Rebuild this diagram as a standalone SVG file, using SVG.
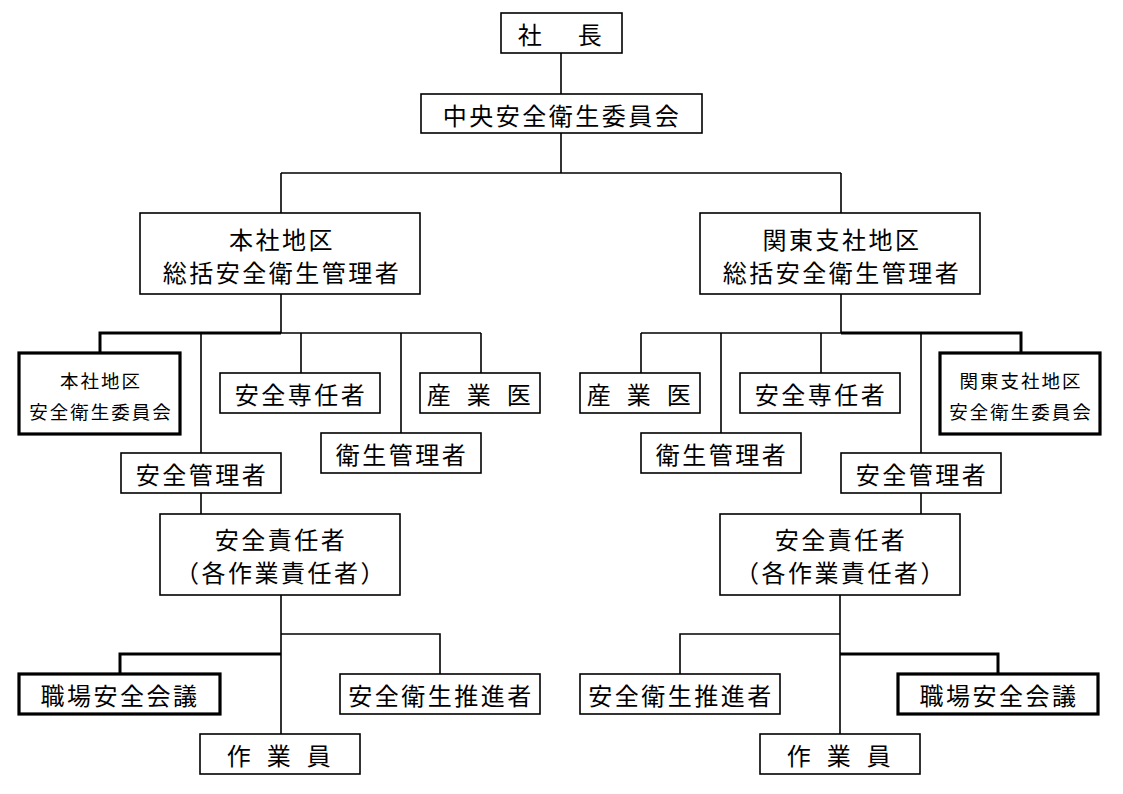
<svg xmlns="http://www.w3.org/2000/svg" width="1123" height="794" viewBox="0 0 1123 794">
<style>
.b{fill:#fff;stroke:#000;stroke-width:1.6}
.bt{fill:#fff;stroke:#000;stroke-width:3.2}
.t{font-family:"Noto Sans CJK JP","Noto Sans CJK SC",sans-serif;font-size:24px;letter-spacing:2.5px;text-anchor:middle;dominant-baseline:central;fill:#000}
.s{font-size:18.5px;letter-spacing:2px}
.c{fill:none;stroke:#000;stroke-width:1.6}
.ct{fill:none;stroke:#000;stroke-width:3}
</style>
<rect width="1123" height="794" fill="#fff"/>
<g id="connectors">
<path class="c" d="M561 53V173M281 173H841M281 173V213M841 173V213"/>
<path class="c" d="M281 294V333H481M201 333V453M301 333V373M401 333V433M481 333V373"/>
<path class="ct" d="M281 333H100V353"/>
<path class="c" d="M841 294V333H641M641 333V373M721 333V433M821 333V373M921 333V453"/>
<path class="ct" d="M841 333H1021V353"/>
<path class="c" d="M201 493V514M281 595V734M281 634H440V674"/>
<path class="ct" d="M281 654H120V674"/>
<path class="c" d="M921 493V514M840 595V734M840 634H680V674"/>
<path class="ct" d="M840 654H998V674"/>
</g>
<g id="shacho"><rect class="b" x="501" y="13" width="121" height="40"/><text class="t" y="33"><tspan x="531">社</tspan><tspan x="591">長</tspan></text></g>
<g id="chuo"><rect class="b" x="421" y="94" width="281" height="39"/><text class="t" x="562" y="114">中央安全衛生委員会</text></g>
<g id="honsha"><rect class="b" x="140" y="213" width="280" height="81"/><text class="t" x="282" y="238">本社地区</text><text class="t" x="282" y="271">総括安全衛生管理者</text></g>
<g id="kanto"><rect class="b" x="700" y="213" width="280" height="81"/><text class="t" x="842" y="238">関東支社地区</text><text class="t" x="842" y="271">総括安全衛生管理者</text></g>
<g id="honsha-iinkai"><rect class="bt" x="19" y="353" width="161" height="81"/><text class="t s" x="101" y="380">本社地区</text><text class="t s" x="101" y="411">安全衛生委員会</text></g>
<g id="l-senin"><rect class="b" x="220" y="373" width="160" height="40"/><text class="t" x="301" y="393">安全専任者</text></g>
<g id="l-sangyoi"><rect class="b" x="420" y="373" width="120" height="40"/><text class="t" y="393"><tspan x="440">産</tspan><tspan x="480">業</tspan><tspan x="520">医</tspan></text></g>
<g id="l-eisei"><rect class="b" x="321" y="433" width="160" height="40"/><text class="t" x="402" y="453">衛生管理者</text></g>
<g id="l-anzenkanri"><rect class="b" x="121" y="453" width="160" height="40"/><text class="t" x="202" y="473">安全管理者</text></g>
<g id="r-sangyoi"><rect class="b" x="580" y="373" width="120" height="40"/><text class="t" y="393"><tspan x="600">産</tspan><tspan x="640">業</tspan><tspan x="680">医</tspan></text></g>
<g id="r-senin"><rect class="b" x="740" y="373" width="160" height="40"/><text class="t" x="821" y="393">安全専任者</text></g>
<g id="kanto-iinkai"><rect class="bt" x="940" y="353" width="160" height="81"/><text class="t s" x="1021" y="380">関東支社地区</text><text class="t s" x="1021" y="411">安全衛生委員会</text></g>
<g id="r-eisei"><rect class="b" x="641" y="433" width="160" height="40"/><text class="t" x="722" y="453">衛生管理者</text></g>
<g id="r-anzenkanri"><rect class="b" x="841" y="453" width="160" height="40"/><text class="t" x="922" y="473">安全管理者</text></g>
<g id="l-sekinin"><rect class="b" x="160" y="514" width="240" height="81"/><text class="t" x="281" y="538">安全責任者</text><text class="t" x="281" y="571">（各作業責任者）</text></g>
<g id="r-sekinin"><rect class="b" x="720" y="514" width="240" height="81"/><text class="t" x="841" y="538">安全責任者</text><text class="t" x="841" y="571">（各作業責任者）</text></g>
<g id="l-shokuba"><rect class="bt" x="19" y="674" width="201" height="40"/><text class="t" x="120" y="694">職場安全会議</text></g>
<g id="l-suishin"><rect class="b" x="340" y="674" width="200" height="40"/><text class="t" x="441" y="694">安全衛生推進者</text></g>
<g id="l-sagyoin"><rect class="b" x="200" y="734" width="160" height="40"/><text class="t" y="754"><tspan x="240">作</tspan><tspan x="280">業</tspan><tspan x="320">員</tspan></text></g>
<g id="r-suishin"><rect class="b" x="580" y="674" width="200" height="40"/><text class="t" x="681" y="694">安全衛生推進者</text></g>
<g id="r-shokuba"><rect class="bt" x="898" y="674" width="200" height="40"/><text class="t" x="999" y="694">職場安全会議</text></g>
<g id="r-sagyoin"><rect class="b" x="760" y="734" width="160" height="40"/><text class="t" y="754"><tspan x="800">作</tspan><tspan x="840">業</tspan><tspan x="880">員</tspan></text></g>
</svg>
